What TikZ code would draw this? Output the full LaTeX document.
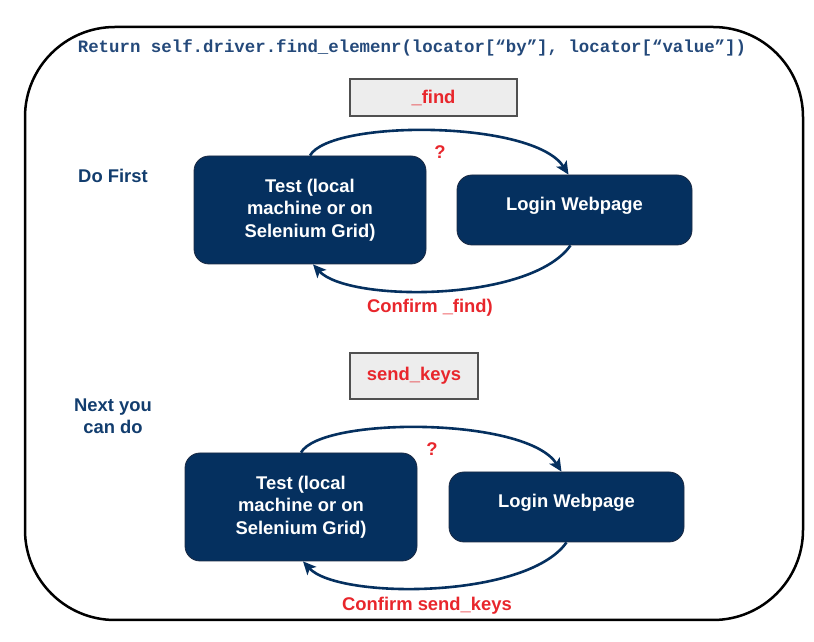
\documentclass[tikz,border=0pt]{standalone}
\usepackage{fontspec}
\setmainfont{Liberation Sans}
\newfontfamily\codefont{Liberation Mono}
\usetikzlibrary{arrows.meta}
\definecolor{navy}{HTML}{05305F}
\definecolor{boxline}{HTML}{1C2B44}
\definecolor{taggray}{HTML}{EDEDED}
\definecolor{tagline}{HTML}{505050}
\definecolor{alertred}{HTML}{E8262C}
\definecolor{labelblue}{HTML}{123D6E}
\definecolor{codeblue}{HTML}{24497A}

\begin{document}
\begin{tikzpicture}[x=1pt,y=1pt]
   \tikzstyle{every node}=[font=\bfseries\fontsize{18.4}{22.4}\selectfont]
   \tikzstyle{box}=[draw=boxline, fill=navy, line width=0.8pt, rounded corners=15pt, text=white, align=center]
   \tikzstyle{tag}=[draw=tagline, fill=taggray, line width=2.2pt, text=alertred]
   \tikzstyle{flow}=[draw=navy, line width=2.6pt, -{Stealth[length=13pt,width=12pt,inset=3pt]}]
   \tikzstyle{note}=[text=alertred]
   \tikzstyle{side}=[text=labelblue, align=center]

\useasboundingbox (0,0) rectangle (814,642);
\draw[line width=2.5pt, rounded corners=90pt] (25,22) rectangle (803,615);

\node[text=codeblue, font=\codefont\bfseries\fontsize{17.4}{20}\selectfont] (title) at (412,594)
    {Return self.driver.find\_elemenr(locator[“by”], locator[“value”])};

% first step
\node[tag, minimum width=167pt, minimum height=37pt] (find) at (433.5,544.5) {\_find};
\node[side] (first) at (113,466) {Do First};
\node[box, minimum width=232pt, minimum height=108pt] (test1) at (310,432) {Test (local\\machine or on\\Selenium Grid)};
\node[box, minimum width=235pt, minimum height=70pt, text depth=12pt] (login1) at (574.5,432) {Login Webpage};
\node[note] (q1) at (440,490) {?};
\node[note] (conf1) at (430,334) {Confirm \_find)};
\draw[flow] (test1.north) .. controls +(20,36) and +(-35,55) .. ([xshift=-6pt]login1.north);
\draw[flow] ([xshift=-4pt]login1.south) .. controls +(-40,-57) and +(35,-38) .. ([xshift=3pt]test1.south);

% next step
\node[tag, minimum width=128pt, minimum height=46pt] (keys) at (414,266) {send\_keys};
\node[side] (next) at (113,226) {Next you\\can do};
\node[box, minimum width=232pt, minimum height=108pt] (test2) at (301,135) {Test (local\\machine or on\\Selenium Grid)};
\node[box, minimum width=235pt, minimum height=70pt, text depth=12pt] (login2) at (566.5,135) {Login Webpage};
\node[note] (q2) at (432,193) {?};
\node[note] (conf2) at (427,36) {Confirm send\_keys};
\draw[flow] (test2.north) .. controls +(20,36) and +(-35,55) .. ([xshift=-5pt]login2.north);
\draw[flow] (login2.south) .. controls +(-40,-57) and +(35,-38) .. ([xshift=2pt]test2.south);

\end{tikzpicture}
\end{document}
